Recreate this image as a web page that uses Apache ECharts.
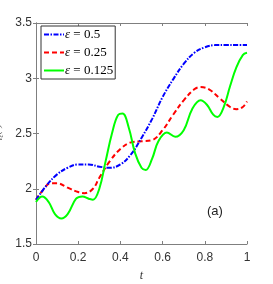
<!DOCTYPE html>
<html><head><meta charset="utf-8">
<script src="https://cdn.jsdelivr.net/npm/echarts@6/dist/echarts.min.js"></script>
<style>html,body{margin:0;padding:0;background:#fff}#c{width:273px;height:284px}</style>
</head><body><div id="c"></div>
<script>
const seriesNames = ['\u03b5 = 0.5', '\u03b5 = 0.25', '\u03b5 = 0.125'];
const xTicks = [0, 0.2, 0.4, 0.6, 0.8, 1];
const yTicks = [1.5, 2, 2.5, 3, 3.5];
const tBlue = [0,0.05,0.1,0.15,0.2,0.25,0.3,0.35,0.4,0.45,0.5,0.55,0.6,0.65,0.7,0.75,0.8,0.85,0.9,0.95,1];
const vBlue = [1.90,2.03,2.13,2.19,2.22,2.22,2.20,2.19,2.22,2.31,2.46,2.63,2.83,2.99,3.13,3.23,3.28,3.30,3.30,3.30,3.30];
const tRed = [0,0.03,0.07,0.1,0.15,0.2,0.23,0.27,0.3,0.35,0.4,0.45,0.5,0.55,0.6,0.65,0.7,0.75,0.78,0.82,0.87,0.92,0.95,0.98,1];
const vRed = [1.90,1.98,2.05,2.05,2.01,1.97,1.96,2.00,2.10,2.25,2.36,2.42,2.43,2.44,2.53,2.67,2.80,2.90,2.92,2.90,2.82,2.74,2.72,2.74,2.79];
const tGreen = [0,0.03,0.06,0.09,0.12,0.15,0.19,0.22,0.25,0.27,0.3,0.33,0.36,0.39,0.41,0.44,0.47,0.5,0.52,0.55,0.58,0.62,0.66,0.7,0.74,0.78,0.81,0.84,0.86,0.89,0.92,0.95,0.98,1];
const vGreen = [1.88,1.93,1.88,1.77,1.73,1.77,1.91,1.93,1.91,1.90,2.00,2.25,2.50,2.67,2.68,2.55,2.32,2.19,2.17,2.27,2.43,2.51,2.47,2.53,2.72,2.80,2.76,2.67,2.65,2.74,2.93,3.10,3.21,3.23];

function pairs(t, v) { return t.map((x, i) => [x, v[i]]); }
const chart = echarts.init(document.getElementById('c'), null, {renderer: 'canvas'});
const axisCol = '#7f7f7f';
const lblStyle = {color: '#333', fontFamily: 'Liberation Sans Narrow, Liberation Sans, sans-serif', fontSize: 12};
const xBase = {type: 'value', min: 0, max: 1, interval: 0.2, splitLine: {show: false},
  axisLine: {lineStyle: {color: axisCol}}, axisTick: {inside: true, length: 3, lineStyle: {color: axisCol}}};
const yBase = {type: 'value', min: 1.5, max: 3.5, interval: 0.5, splitLine: {show: false},
  axisLine: {lineStyle: {color: axisCol}}, axisTick: {inside: true, length: 3, lineStyle: {color: axisCol}}};
const serif = 'Liberation Serif, DejaVu Serif, serif';
chart.setOption({
  animation: false,
  grid: {left: 36, right: 26, top: 23, bottom: 40, containLabel: false, outerBoundsMode: 'none'},
  legend: {
    left: 41, top: 26, orient: 'vertical', itemWidth: 20, itemHeight: 12, itemGap: 5,
    borderColor: '#333', borderWidth: 1, padding: [2, 2, 2, 2], backgroundColor: '#fff',
    itemStyle: {opacity: 0},
    formatter: n => '{i|\u03b5}{n|' + n.slice(1) + '}',
    textStyle: {fontFamily: serif, fontSize: 13, color: '#000', padding: [0,0,0,-4],
      rich: {i: {fontFamily: serif, fontStyle: 'italic', fontSize: 13, color: '#000'},
             n: {fontFamily: serif, fontSize: 13, color: '#000'}}},
    data: seriesNames
  },
  xAxis: [
    Object.assign({}, xBase, {position: 'bottom', name: 't', nameLocation: 'middle', nameGap: 26,
      nameTextStyle: {fontStyle: 'italic', fontFamily: serif, fontSize: 12, color: '#333'},
      axisLabel: Object.assign({margin: 8, formatter: v => xTicks.includes(+v.toFixed(1)) ? String(+v.toFixed(1)) : ''}, lblStyle)}),
    Object.assign({}, xBase, {position: 'top', axisLabel: {show: false}})
  ],
  yAxis: [
    Object.assign({}, yBase, {position: 'left',
      name: '{e|\u03b7}{s|\u03b5}{p|(t)}', nameLocation: 'middle', nameGap: 29, nameRotate: 90,
      nameTextStyle: {rich: {
        e: {fontFamily: serif, fontStyle: 'italic', fontSize: 11, color: '#555'},
        s: {fontFamily: serif, fontStyle: 'italic', fontSize: 8, color: '#555', padding: [6,0,0,0]},
        p: {fontFamily: serif, fontStyle: 'italic', fontSize: 11, color: '#555'}}},
      axisLabel: Object.assign({margin: 4, formatter: v => yTicks.includes(v) ? String(v) : ''}, lblStyle)}),
    Object.assign({}, yBase, {position: 'right', axisLabel: {show: false}})
  ],
  graphic: [{type: 'text', left: 207, top: 205, style: {text: '(a)', fontFamily: 'Liberation Sans Narrow, Liberation Sans, sans-serif', fontSize: 13, fill: '#222'}}],
  series: [
    {name: seriesNames[0], type: 'line', smooth: 0.4, symbol: 'none', data: pairs(tBlue, vBlue),
      lineStyle: {color: '#0000ff', width: 2, type: [5, 1.5, 1.5, 1.5]}, itemStyle: {color: '#0000ff'}, z: 3},
    {name: seriesNames[1], type: 'line', smooth: 0.4, symbol: 'none', data: pairs(tRed, vRed),
      lineStyle: {color: '#ff0000', width: 2, type: [5, 3]}, itemStyle: {color: '#ff0000'}, z: 2},
    {name: seriesNames[2], type: 'line', smooth: 0.4, symbol: 'none', data: pairs(tGreen, vGreen),
      lineStyle: {color: '#00ff00', width: 2, type: 'solid'}, itemStyle: {color: '#00ff00'}, z: 4}
  ]
});
</script></body></html>
